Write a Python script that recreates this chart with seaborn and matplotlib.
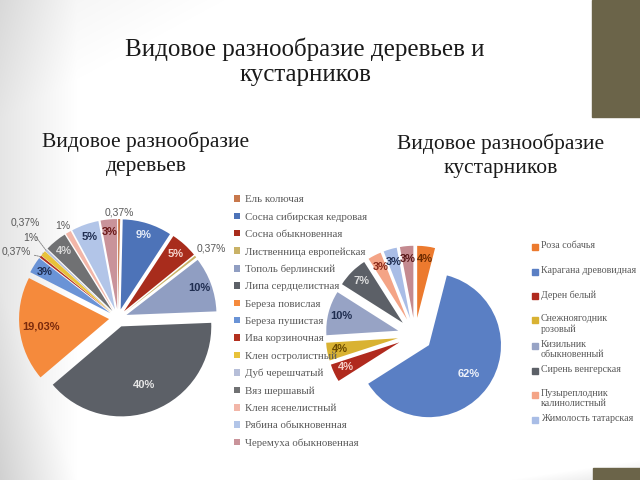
import matplotlib
matplotlib.use("Agg")
import matplotlib.pyplot as plt
import numpy as np
import seaborn as sns
from matplotlib.patches import Patch, Rectangle

# ---------------- data ----------------
main_title = "Видовое разнообразие деревьев и\nкустарников"
tree_title = "Видовое разнообразие\nдеревьев"
shrub_title = "Видовое разнообразие\nкустарников"

tree_species = ["Ель колючая", "Сосна сибирская кедровая", "Сосна обыкновенная",
                "Лиственница европейская", "Тополь берлинский", "Липа сердцелистная",
                "Береза повислая", "Береза пушистая", "Ива корзиночная",
                "Клен остролистный", "Дуб черешчатый", "Вяз шершавый",
                "Клен ясенелистный", "Рябина обыкновенная", "Черемуха обыкновенная"]
tree_share = [0.37, 9, 5, 0.37, 10, 40, 19.03, 3, 0.37, 1, 0.37, 4, 1, 5, 3]

shrub_species = ["Роза собачья", "Карагана древовидная", "Дерен белый",
                 "Снежноягодник\nрозовый", "Кизильник\nобыкновенный",
                 "Сирень венгерская", "Пузыреплодник\nкалинолистный",
                 "Жимолость татарская", "Прочие"]
shrub_share = [4, 62, 4, 4, 10, 7, 3, 3, 3]
shrub_legend_count = 8

# ---------------- style ----------------
tree_colors = ["#c8784c", "#4d73b8", "#a82c1c", "#c9b266", "#909ec2", "#5c6067",
               "#f58a3c", "#6a93d6", "#b3301f", "#e8c23a", "#b6bed8", "#707173",
               "#f2b6a8", "#b2c5e8", "#c9939a"]
tree_label_colors = ["#595959", "#e4ebf7", "#f7d6cf", "#595959", "#1f2d50", "#e6e6e6",
                     "#7a2a0c", "#1f2d50", "#595959", "#595959", "#595959", "#d9d9d9",
                     "#595959", "#1f2d50", "#6b1a1a"]
shrub_colors = ["#ec7a2e", "#5a7fc4", "#b02a1e", "#d9b232", "#97a3c5", "#5c6067",
                "#f4a486", "#a9bde6", "#c48a90"]
shrub_label_colors = ["#6a2a00", "#eef2fa", "#f7cfc7", "#6a4a00", "#1f2d50", "#dedede",
                      "#8a2a1a", "#1f2d50", "#5a1a1a"]

# outside labels (left pie): index -> (dx px, dy px, leader line)
tree_outside = {0: (0, 7, False), 3: (16, 8, False), 8: (-24, 5, True),
                9: (-12, 15, True), 10: (-21, 28, True), 12: (-6, 6, False)}

# right legend rows (first-line centre, px from top)
shrub_legend_y = [247, 272, 296, 320, 346, 371, 395, 420]


def fmt(v):
    return f"{v:g}%".replace(".", ",")


sns.set_theme(style="white")
plt.rcParams["font.family"] = ["Liberation Serif", "DejaVu Serif"]

W, H = 640, 480
fig = plt.figure(figsize=(W / 100, H / 100), dpi=100)
fig.patch.set_facecolor("white")

# soft grey gradient like the slide background
bg = fig.add_axes([0, 0, 1, 1], zorder=-10)
xx = np.linspace(0, 1, 640)
yy = np.linspace(0, 1, 480)
X, Y = np.meshgrid(xx, yy)
shade = (np.clip(1 - X / 0.12, 0, 1) * 0.10
         + np.clip(1 - (X / 0.35 + Y / 0.25), 0, 1) * 0.05
         + np.clip(1 - (X / 0.12 + (1 - Y) / 0.4), 0, 1) * 0.08
         + np.clip(1 - ((1 - X) / 0.2 + (1 - Y) / 0.04), 0, 1) * 0.10)
img = np.dstack([1 - shade] * 3)
bg.imshow(img, aspect="auto", extent=[0, 1, 0, 1], origin="upper")
bg.axis("off")

fig.add_artist(Rectangle((592 / W, 1 - 117 / H), 48 / W, 117 / H,
                         transform=fig.transFigure, color="#6b6449", zorder=5))
fig.add_artist(Rectangle((593 / W, 0), 47 / W, 12 / H,
                         transform=fig.transFigure, color="#6b6449", zorder=5))

fig.text(305 / W, 1 - 62 / H, main_title, ha="center", va="center",
         fontsize=18, color="#1a1a1a", linespacing=1.2)
fig.text(146 / W, 1 - 154 / H, tree_title, ha="center", va="center",
         fontsize=15.5, color="#1a1a1a", linespacing=1.35)
fig.text(501 / W, 1 - 156 / H, shrub_title, ha="center", va="center",
         fontsize=15.5, color="#1a1a1a", linespacing=1.35)


def pie_axes(cx, cy, half, r):
    ax = fig.add_axes([(cx - half) / W, 1 - (cy + half) / H, 2 * half / W, 2 * half / H])
    ax.set_facecolor("none")
    return ax, half / r


def label_font(size=8, weight="bold"):
    return dict(family=["Liberation Sans", "DejaVu Sans"], fontsize=size, fontweight=weight)


# ---------------- left pie ----------------
axL, limL = pie_axes(118, 318, 118, 90)
wedgesL, _ = axL.pie(tree_share, colors=tree_colors, explode=[0.1] * len(tree_share),
                     startangle=90, counterclock=False, radius=1.0,
                     wedgeprops=dict(linewidth=0))
for i, w in enumerate(wedgesL):
    ang = np.deg2rad((w.theta1 + w.theta2) / 2)
    cx, cy = w.center
    if i in tree_outside:
        dx, dy, lead = tree_outside[i]
        xy = (cx + np.cos(ang) * 1.0, cy + np.sin(ang) * 1.0)
        axL.annotate(fmt(tree_share[i]), xy=xy, xytext=(dx, dy), textcoords="offset pixels",
                     ha="center", va="center", color="#595959",
                     arrowprops=dict(arrowstyle="-", color="#7f7f7f", lw=0.6,
                                     linestyle=(0, (2, 1)), shrinkA=6, shrinkB=0) if lead else None,
                     **label_font(7.5, "normal"))
    else:
        v = tree_share[i]
        d = 0.70 if v >= 30 else (0.76 if v >= 15 else 0.86)
        axL.text(cx + np.cos(ang) * d, cy + np.sin(ang) * d, fmt(v),
                 ha="center", va="center", color=tree_label_colors[i], **label_font())
axL.set_xlim(-limL, limL)
axL.set_ylim(-limL, limL)
axL.axis("off")

# ---------------- right pie ----------------
axR, limR = pie_axes(415, 335, 110, 72)
explodeR = [0.24] * len(shrub_share)
wedgesR, _ = axR.pie(shrub_share, colors=shrub_colors, explode=explodeR,
                     startangle=90, counterclock=False, radius=1.0,
                     wedgeprops=dict(linewidth=0))
for i, w in enumerate(wedgesR):
    ang = np.deg2rad((w.theta1 + w.theta2) / 2)
    cx, cy = w.center
    d = 0.68 if shrub_share[i] > 50 else 0.82
    axR.text(cx + np.cos(ang) * d, cy + np.sin(ang) * d, fmt(shrub_share[i]),
             ha="center", va="center", color=shrub_label_colors[i], **label_font())
axR.set_xlim(-limR, limR)
axR.set_ylim(-limR, limR)
axR.axis("off")

# ---------------- legends ----------------
hL = [Patch(facecolor=c, edgecolor="none") for c in tree_colors]
fig.legend(hL, tree_species, loc="upper left", bbox_to_anchor=(234 / W, 1 - 195 / H),
           frameon=False, fontsize=7.8, labelspacing=0.75, handlelength=0.55,
           handleheight=0.55, handletextpad=0.45, borderpad=0, borderaxespad=0,
           labelcolor="#595959")

for c, name, y in zip(shrub_colors[:shrub_legend_count],
                      shrub_species[:shrub_legend_count], shrub_legend_y):
    fig.add_artist(Rectangle((532 / W, 1 - (y + 3) / H), 6 / W, 6 / H,
                             transform=fig.transFigure, color=c, zorder=6))
    fig.text(541 / W, 1 - (y - 6) / H, name, ha="left", va="top", fontsize=7.2,
             color="#595959", linespacing=1.2)

fig.savefig("out.png", dpi=100)
